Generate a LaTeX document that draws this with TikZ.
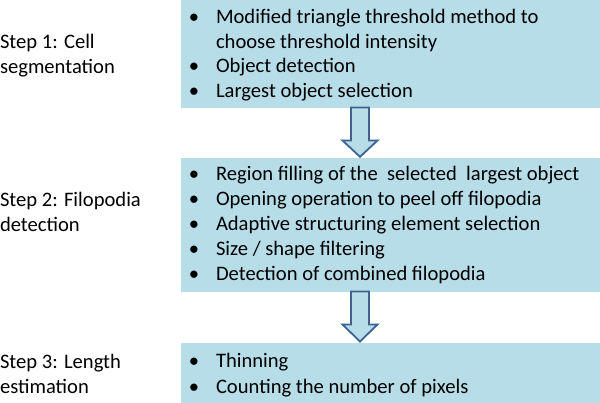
\documentclass[tikz,border=0pt]{standalone}
\usepackage{fontspec}
\setmainfont{Carlito}
\definecolor{boxfill}{HTML}{B7DDE8}
\definecolor{arrowline}{HTML}{3E6391}
\begin{document}
\begin{tikzpicture}[x=1pt,y=-1pt,
  font=\fontsize{20.6}{25}\selectfont,
  panel/.style={fill=boxfill, draw=none, inner sep=0, outer sep=0, anchor=north west},
  txt/.style={anchor=base west, inner sep=0, outer sep=0},
  dot/.style={anchor=base, inner sep=0, outer sep=0},
  blk/.style={fill=boxfill, draw=arrowline, line width=1.8pt, line join=miter}]
\useasboundingbox (0,0) rectangle (600,403);
% boxes
\node[panel, minimum width=419pt, minimum height=108pt] (b1) at (181,0) {};
\node[panel, minimum width=419pt, minimum height=134pt] (b2) at (181,158) {};
\node[panel, minimum width=419pt, minimum height=60pt] (b3) at (181,343) {};
% arrows
\coordinate (ax) at (360,0);
\path (b1.south -| ax) coordinate (a1s) (b2.north -| ax) coordinate (a1e);
\path (b2.south -| ax) coordinate (a2s) (b3.north -| ax) coordinate (a2e);
\draw[blk] ([xshift=-9pt,yshift=0.5pt]a1s) -- ([xshift=9pt,yshift=0.5pt]a1s)
  -- ([xshift=9pt,yshift=17.5pt]a1e) -- ([xshift=17.5pt,yshift=17.5pt]a1e)
  -- ([yshift=1.2pt]a1e) -- ([xshift=-17.5pt,yshift=17.5pt]a1e)
  -- ([xshift=-9pt,yshift=17.5pt]a1e) -- cycle;
\draw[blk] ([xshift=-9pt,yshift=0.5pt]a2s) -- ([xshift=9pt,yshift=0.5pt]a2s)
  -- ([xshift=9pt,yshift=18.5pt]a2e) -- ([xshift=17.5pt,yshift=18.5pt]a2e)
  -- ([yshift=1.5pt]a2e) -- ([xshift=-17.5pt,yshift=18.5pt]a2e)
  -- ([xshift=-9pt,yshift=18.5pt]a2e) -- cycle;
% step labels
\node[txt] (s1a) at (0,49) {Step 1: Cell};
\node[txt] (s1b) at (0,74) {segmentation};
\node[txt] (s2a) at (0,207) {Step 2: Filopodia};
\node[txt] (s2b) at (0,232) {detection};
\node[txt] (s3a) at (0,369) {Step 3: Length};
\node[txt] (s3b) at (0,393) {estimation};
% box 1 text
\node[dot] (d11) at (194,24) {•};
\node[txt] (t11) at (216,24) {Modified triangle threshold method to};
\node[txt] (t11b) at (216,48.5) {choose threshold intensity};
\node[dot] (d12) at (194,73) {•};
\node[txt] (t12) at (216,73) {Object detection};
\node[dot] (d13) at (194,97.5) {•};
\node[txt] (t13) at (216,97.5) {Largest object selection};
% box 2 text
\node[dot] (d21) at (194,181) {•};
\node[txt] (t21) at (216,181) {Region filling of the\ \ selected\ \ largest object};
\node[dot] (d22) at (194,206) {•};
\node[txt] (t22) at (216,206) {Opening operation to peel off filopodia};
\node[dot] (d23) at (194,231) {•};
\node[txt] (t23) at (216,231) {Adaptive structuring element selection};
\node[dot] (d24) at (194,256) {•};
\node[txt] (t24) at (216,256) {Size / shape filtering};
\node[dot] (d25) at (194,281) {•};
\node[txt] (t25) at (216,281) {Detection of combined filopodia};
% box 3 text
\node[dot] (d31) at (194,368) {•};
\node[txt] (t31) at (216,368) {Thinning};
\node[dot] (d32) at (194,393) {•};
\node[txt] (t32) at (216,393) {Counting the number of pixels};
\end{tikzpicture}
\end{document}
